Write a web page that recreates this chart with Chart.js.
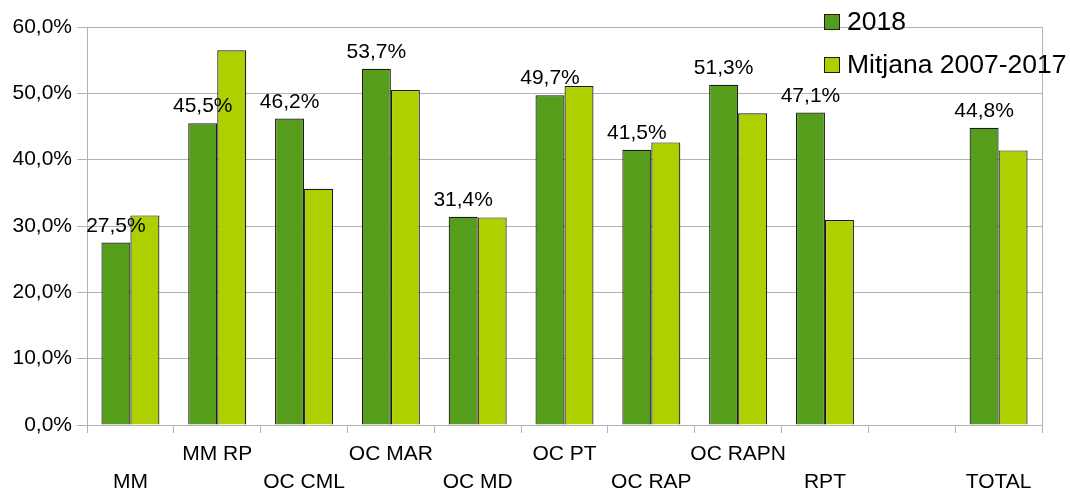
<!DOCTYPE html>
<html>
<head>
<meta charset="utf-8">
<script src="https://cdn.jsdelivr.net/npm/chart.js@4/dist/chart.umd.min.js"></script>
<style>
  html, body { margin: 0; padding: 0; background: #fff; }
  #wrap { width: 1070px; height: 494px; }
</style>
</head>
<body>
<div id="wrap"><canvas id="myChart"></canvas></div>
<script>
const categories = ["MM", "MM RP", "OC CML", "OC MAR", "OC MD", "OC PT", "OC RAP", "OC RAPN", "RPT", "", "TOTAL"];
const valors2018 = [27.5, 45.5, 46.2, 53.7, 31.4, 49.7, 41.5, 51.3, 47.1, null, 44.8];
const mitjana = [31.6, 56.5, 35.6, 50.5, 31.3, 51.1, 42.6, 47.0, 30.9, null, 41.4];
const seriesNames = ["2018", "Mitjana 2007-2017"];
const colors = ["#579d1c", "#aecf00"];

Chart.defaults.font.family = "'Liberation Sans', Arial, sans-serif";
Chart.defaults.color = "#000";

function pct(v) {
  return v.toFixed(1).replace(".", ",") + "%";
}

// etiquetes de valor només sobre la sèrie 2018
const valueLabels = {
  id: "valueLabels",
  afterDatasetsDraw(chart) {
    const ctx = chart.ctx;
    const meta = chart.getDatasetMeta(0);
    ctx.save();
    ctx.font = "21px 'Liberation Sans', Arial, sans-serif";
    ctx.fillStyle = "#000";
    ctx.textAlign = "center";
    ctx.textBaseline = "alphabetic";
    meta.data.forEach((bar, i) => {
      const v = chart.data.datasets[0].data[i];
      if (v == null) return;
      ctx.fillText(pct(v), bar.x, bar.y - 11);
    });
    ctx.restore();
  }
};

// llegenda dibuixada a mà (sobreposada a l'àrea del gràfic)
const customLegend = {
  id: "customLegend",
  afterDraw(chart) {
    const ctx = chart.ctx;
    const x = 824, y0 = 22, gap = 43, box = 16;
    ctx.save();
    ctx.font = "26.5px 'Liberation Sans', Arial, sans-serif";
    ctx.textBaseline = "middle";
    ctx.textAlign = "left";
    chart.data.datasets.forEach((ds, i) => {
      const y = y0 + i * gap;
      ctx.fillStyle = ds.backgroundColor;
      ctx.fillRect(x, y - box / 2, box, box);
      ctx.strokeStyle = "#1a1a1a";
      ctx.lineWidth = 1;
      ctx.strokeRect(x + 0.5, y - box / 2 + 0.5, box - 1, box - 1);
      ctx.fillStyle = "#000";
      ctx.fillText(ds.label, x + 23, y + 1);
    });
    ctx.restore();
  }
};

const data = {
  labels: categories,
  datasets: [
    {
      label: seriesNames[0],
      data: valors2018,
      backgroundColor: colors[0],
      borderColor: "#1a1a1a",
      borderWidth: 1.2,
    },
    {
      label: seriesNames[1],
      data: mitjana,
      backgroundColor: colors[1],
      borderColor: "#1a1a1a",
      borderWidth: 1.2,
    },
  ],
};

const config = {
  type: "bar",
  data: data,
  options: {
    responsive: false,
    animation: false,
    layout: { padding: { top: 27, right: 28, left: 0, bottom: 0 } },
    datasets: {
      bar: { categoryPercentage: 0.668, barPercentage: 1.0 },
    },
    plugins: {
      legend: { display: false },
      tooltip: { enabled: false },
    },
    scales: {
      x: {
        grid: {
          drawOnChartArea: false,
          drawTicks: true,
          tickLength: 8,
          color: "#b3b3b3",
          offset: true,
        },
        border: { color: "#b3b3b3" },
        ticks: {
          autoSkip: false,
          maxRotation: 0,
          minRotation: 0,
          padding: 8,
          font: { size: 21, lineHeight: 1.3 },
          color: "#000",
          callback: function (value, index) {
            const lab = categories[index];
            return index % 2 === 0 ? ["", lab] : lab;
          },
        },
        afterFit(scale) { scale.height = 69; },
      },
      y: {
        min: 0,
        max: 60,
        grid: { color: "#b3b3b3", tickLength: 10 },
        border: { color: "#b3b3b3" },
        ticks: {
          stepSize: 10,
          padding: 5,
          font: { size: 21 },
          color: "#000",
          callback: (v) => pct(v),
        },
        afterFit(scale) { scale.width = 87; },
      },
      y2: {
        position: "right",
        min: 0,
        max: 60,
        grid: { drawOnChartArea: false, drawTicks: false },
        border: { color: "#b3b3b3" },
        ticks: { display: false },
        afterFit(scale) { scale.width = 0; },
      },
    },
  },
  plugins: [valueLabels, customLegend],
};

const canvas = document.getElementById("myChart");
canvas.width = 1070;
canvas.height = 494;
const myChart = new Chart(canvas, config);
</script>
</body>
</html>
